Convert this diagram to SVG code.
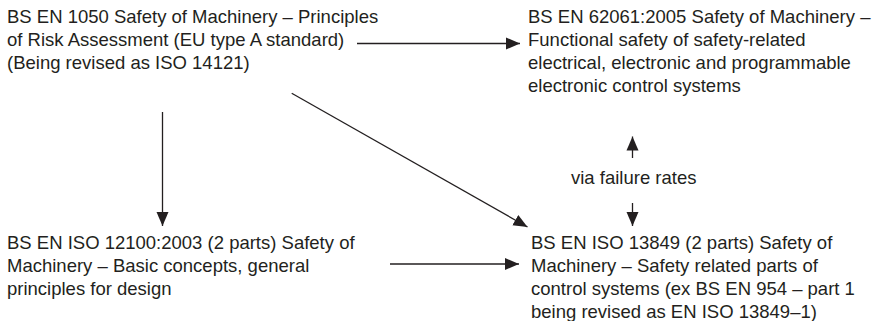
<svg xmlns="http://www.w3.org/2000/svg" width="881" height="321" viewBox="0 0 881 321">
<defs>
<style>
text{font-family:"Liberation Sans",Arial,Helvetica,sans-serif;font-size:18.5px;fill:#231f20}
.c{stroke:#231f20;stroke-width:1.3;fill:none;marker-end:url(#ah)}
</style>
<marker id="ah" markerUnits="userSpaceOnUse" markerWidth="15" markerHeight="13" refX="14" refY="6.5" orient="auto" viewBox="0 0 15 13">
<path d="M0,0.5 L14,6.5 L0,12.5 z" fill="#231f20"/>
</marker>
</defs>
<rect width="881" height="321" fill="#fff"/>
<g id="n1050">
<text x="7" y="23">BS EN 1050 Safety of Machinery – Principles</text>
<text x="7" y="46">of Risk Assessment (EU type A standard)</text>
<text x="7" y="69">(Being revised as ISO 14121)</text>
</g>
<g id="n62061">
<text x="528" y="23">BS EN 62061:2005 Safety of Machinery –</text>
<text x="528" y="46">Functional safety of safety-related</text>
<text x="528" y="69">electrical, electronic and programmable</text>
<text x="528" y="92">electronic control systems</text>
</g>
<g id="n12100">
<text x="7" y="248.5">BS EN ISO 12100:2003 (2 parts) Safety of</text>
<text x="7" y="271.5">Machinery – Basic concepts, general</text>
<text x="7" y="294.5">principles for design</text>
</g>
<g id="n13849">
<text x="531" y="248.5">BS EN ISO 13849 (2 parts) Safety of</text>
<text x="531" y="271.5">Machinery – Safety related parts of</text>
<text x="531" y="294.5">control systems (ex BS EN 954 – part 1</text>
<text x="531" y="317.5">being revised as EN ISO 13849–1)</text>
</g>
<g id="label">
<text x="571" y="184">via failure rates</text>
</g>
<g id="connectors">
<line class="c" x1="357" y1="43.5" x2="520" y2="43.5"/>
<line class="c" x1="162.5" y1="112" x2="162.5" y2="226"/>
<line class="c" x1="291.7" y1="93.3" x2="527.5" y2="227"/>
<line class="c" x1="390" y1="264" x2="519" y2="264"/>
<line class="c" x1="632.5" y1="158" x2="632.5" y2="136.5"/>
<line class="c" x1="632.5" y1="203" x2="632.5" y2="226"/>
</g>
</svg>
